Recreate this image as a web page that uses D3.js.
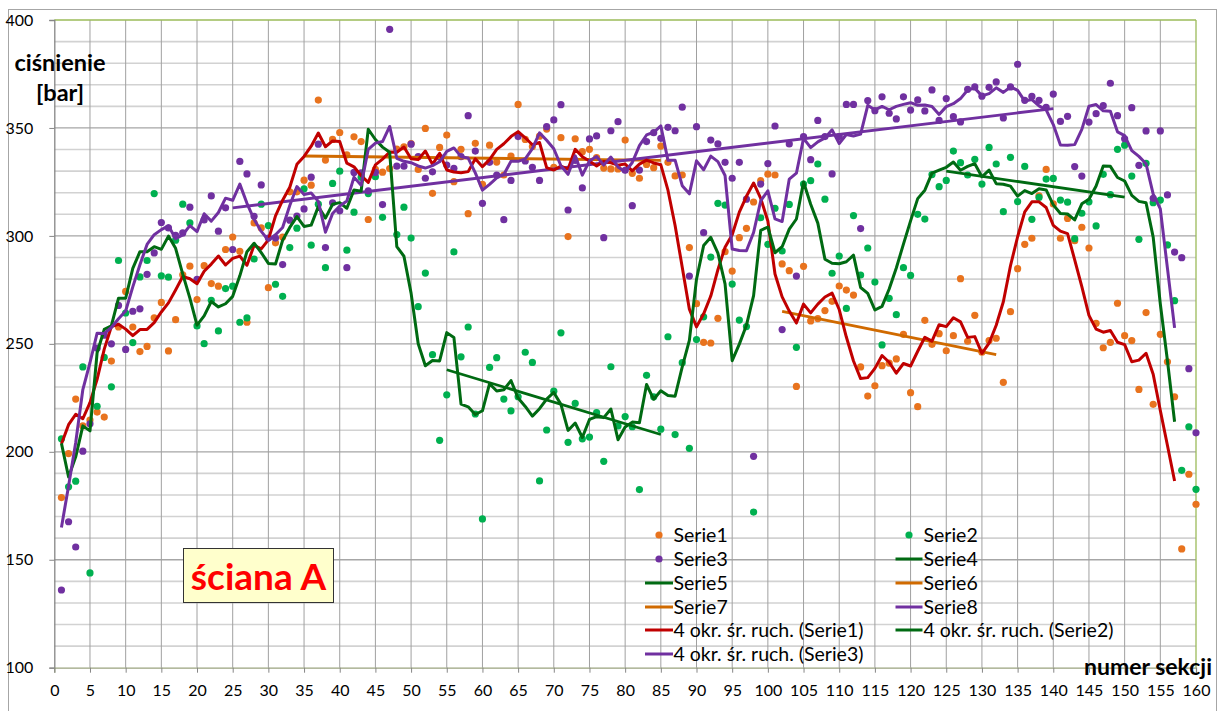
<!DOCTYPE html>
<html>
<head>
<meta charset="utf-8">
<script src="https://cdn.jsdelivr.net/npm/d3@7"></script>
<style>
  html, body { margin: 0; padding: 0; background: #fff; }
  svg { display: block; font-family: Lato, "Open Sans", sans-serif; }
</style>
</head>
<body>
<svg id="chart" width="1220" height="711"></svg>
<script>
// ---------------- data ----------------
const sections = d3.range(1, 161);

const serie1 = [178.8,199.2,224.4,212,214.7,218.4,216.1,242,257.8,274.3,
257.8,246.4,248.8,262.1,269.2,246.7,261.2,282,286,270.5,
286.2,277.9,276.7,293.7,299.5,292.9,260,306,303.7,276,
296.8,299.5,320.4,320.4,325.8,323.5,362.9,335.1,344.7,347.9,
337.5,345.9,343.7,307.6,330.8,329.5,331.2,340.2,341.3,342.8,
330.8,349.8,319.7,341,346.7,325.1,340.1,310.3,342.9,323.9,
342,334.2,328.2,337,360.9,344.7,341.4,346.2,349.5,331.8,
345.5,299.7,345,339,340.1,336.3,331.4,331,331,344.4,
329,326.7,333.1,331.6,341.6,334.1,327.8,328.2,294.6,268.6,
250.7,250.4,261.8,292.7,283.7,299.2,303.5,315.7,325.6,328.6,
328.2,287,283.9,230.3,285.9,260.6,261.7,265.4,269.7,276.8,
274.9,272.6,239.3,225.8,230.6,239.9,241.1,243,254.4,227.4,
220.9,260.9,249.8,254.7,246.8,253.8,280.2,251.2,263.2,246.1,
251.5,252.6,232.2,264.9,284.8,296.1,298.9,318.6,330.8,314.8,
298.9,308.1,297.8,304,294.4,259.5,248.2,250.7,268.8,253.8,
251.5,228.9,264.5,222,254.4,241.7,225.5,155,189.6,175.7];

const serie2 = [206,183.8,186.4,239.3,143.9,221.1,243.7,230.1,288.6,264.3,
250.6,281,288.6,319.6,281.5,280.9,298,314.7,306,258.3,
250.1,270.2,256,275.6,276.7,260,262,289.3,314.7,304.8,
277.6,272,294.6,303.6,321.8,295.7,314.7,285.3,324.3,330,
293.4,311,327.2,319.6,327.4,308.6,442,300.6,313.3,299,
267.2,282.8,245,205.3,226.4,292.6,244,257.8,217.5,168.9,
239.1,243.6,224.4,219,225.5,246.1,241.4,186.5,210.1,228.1,
255.1,204.4,222.4,206,206.8,218.1,195.6,239.4,212,216.3,
211.6,182.5,235.4,225.5,210.5,253.3,208,241.3,201.6,252,
262.5,290.2,315.1,314.3,277.7,261,258,172.1,308.4,296.1,
312.8,293,314.6,248.4,324,325.6,333.3,317,282.7,290.7,
266.4,309.4,281.9,294.4,278.6,249.5,271.1,263.5,285.3,281.7,
310,307.8,328.4,322.8,325.7,339.3,333.9,328.2,335.5,324,
341,333.3,311.2,336.4,315.9,332.2,307.7,317.8,326.3,326.6,
316.6,315.6,298.7,310.5,315.8,304.6,328.5,319.1,340.1,342,
327.7,298.4,333.6,315.4,316.6,295.8,270,191.4,211.6,182.6];

const serie3 = [136,167.6,155.9,200.3,213,248,254,250,267.8,247.4,
265.1,266.2,282.2,292.1,306.2,303.7,300.3,301.4,313.3,279.9,
307.4,318.5,302.2,313,293.7,334.5,328.7,309.1,323.6,299,
299,286.7,307.3,309.2,312.5,327.2,342.5,294.6,315.3,311.6,
285.3,329.4,329.2,320.9,329.4,314.5,395.7,332.3,332.3,342.5,
336.7,326.7,329.7,336.5,332.8,331.3,336.7,355.7,339.3,315.1,
334.1,328.2,307.5,325.7,346,334.7,331.8,325.7,350.6,353.7,
360.8,312,335,322.2,344.9,346.3,299.2,348.7,352.9,330.4,
314,330.5,343.7,347.8,345.2,350.3,348.7,359.6,281.4,350.6,
301.5,344.4,342.6,334.1,326.7,334.1,317,197.9,324,333.5,
350.9,256.6,342.6,281.4,346,335.3,353.5,346,328.7,346,
360.9,360.9,303.4,362.7,358,364.4,356.8,354.2,364.4,358.3,
363,357.9,367.6,353.5,363.6,355.2,352.8,367.9,369,364.7,
368.8,371.3,354.6,369,379.5,362.8,364.6,362.8,359.5,365.7,
353,355.4,332.1,327.7,352.7,356.6,360.3,370.7,355.7,345,
359.4,332.7,348.6,317.4,348.6,319,292.5,289.9,238.5,208.8];

// straight segments (Serie4 .. Serie8)
const serie4X = [125, 150], serie4Y = [330, 318];
const serie5X = [55, 85],   serie5Y = [238, 208];
const serie6X = [102, 132], serie6Y = [265, 245];
const serie7X = [35, 85],   serie7Y = [337, 335];
const serie8X = [25, 140],  serie8Y = [313, 359];

const xTicks = d3.range(0, 161, 5);
const yTicks = [100, 150, 200, 250, 300, 350, 400];
const yMinor = d3.range(110, 400, 10);
const maPeriod = 4;

const legendLeft = ["Serie1", "Serie3", "Serie5", "Serie7", "4 okr. śr. ruch. (Serie1)", "4 okr. śr. ruch. (Serie3)"];
const legendRight = ["Serie2", "Serie4", "Serie6", "Serie8", "4 okr. śr. ruch. (Serie2)"];

// ---------------- styles ----------------
const C = {
  s1: "#E8731E", s2: "#00B050", s3: "#7030A0",
  ma1: "#C00000", ma2: "#006A12", ma3: "#7030A0",
  s4: "#006A12", s5: "#006A12", s6: "#D06A00", s7: "#D06A00", s8: "#7030A0"
};

const svg = d3.select("#chart");
const W = 1220, H = 711;
const L = 54.3, R = 1196, T = 20, B = 667.7;

const x = d3.scaleLinear().domain([0, 160]).range([L, R]);
const y = d3.scaleLinear().domain([100, 400]).range([B, T]);

svg.append("rect").attr("width", W).attr("height", H).attr("fill", "#fff");
// outer chart frame
svg.append("rect").attr("x", 8.5).attr("y", 9.5).attr("width", 1208).attr("height", 720)
  .attr("fill", "none").attr("stroke", "#a6a6a6").attr("stroke-width", 1);

const g = svg.append("g");

// minor horizontal grid
g.selectAll(".hmin").data(yMinor.filter(v => v % 50 !== 0)).join("line")
  .attr("x1", L).attr("x2", R).attr("y1", d => y(d)).attr("y2", d => y(d))
  .attr("stroke", "#d2d2d2").attr("stroke-width", 1.6);
// major horizontal grid
g.selectAll(".hmaj").data(yTicks.filter(v => v > 100 && v < 400)).join("line")
  .attr("x1", L).attr("x2", R).attr("y1", d => y(d)).attr("y2", d => y(d))
  .attr("stroke", "#a6a6a6").attr("stroke-width", 1.3);
// vertical grid
g.selectAll(".vg").data(xTicks.filter(v => v > 0 && v < 160)).join("line")
  .attr("x1", d => x(d)).attr("x2", d => x(d)).attr("y1", T).attr("y2", B)
  .attr("stroke", "#a0a0a0").attr("stroke-width", 1);

// plot border (top/right olive)
g.append("line").attr("x1", L).attr("x2", R).attr("y1", T).attr("y2", T)
  .attr("stroke", "#9bbb59").attr("stroke-width", 1.3);
g.append("line").attr("x1", R).attr("x2", R).attr("y1", T).attr("y2", B)
  .attr("stroke", "#9bbb59").attr("stroke-width", 1.3);

// axes
const yAxis = d3.axisLeft(y).tickValues(yTicks).tickSize(5).tickPadding(16);
const xAxis = d3.axisBottom(x).tickValues(xTicks).tickSize(5).tickPadding(12);

const ya = svg.append("g").attr("transform", `translate(${L},0)`).call(yAxis);
ya.select(".domain").attr("stroke", "#868686").attr("stroke-width", 1.3);
ya.selectAll(".tick line").attr("stroke", "#868686");
ya.selectAll(".tick text").attr("font-size", 16).attr("fill", "#000")
  .attr("font-family", "Lato, sans-serif");

const xa = svg.append("g").attr("transform", `translate(0,${B})`).call(xAxis);
xa.select(".domain").attr("stroke", "#9aa37f").attr("stroke-width", 1.3);
xa.selectAll(".tick line").attr("stroke", "#868686");
xa.selectAll(".tick text").attr("font-size", 16).attr("fill", "#000")
  .attr("font-family", "Lato, sans-serif");

// ---------------- marks ----------------
const inRange = v => v >= 100 && v <= 400;
function dots(vals, color) {
  g.append("g").selectAll("circle")
    .data(vals.map((v, i) => ({ x: sections[i], y: v })).filter(d => inRange(d.y)))
    .join("circle")
    .attr("cx", d => x(d.x)).attr("cy", d => y(d.y)).attr("r", 3.6)
    .attr("fill", color);
}
dots(serie1, C.s1);
dots(serie2, C.s2);
dots(serie3, C.s3);

const line = d3.line().x(d => x(d[0])).y(d => y(d[1]));
function seg(xs, ys, color, w) {
  g.append("path").datum(xs.map((v, i) => [v, ys[i]]))
    .attr("d", line).attr("fill", "none").attr("stroke", color)
    .attr("stroke-width", w).attr("stroke-linejoin", "round");
}
seg(serie4X, serie4Y, C.s4, 2.8);
seg(serie5X, serie5Y, C.s5, 2.8);
seg(serie6X, serie6Y, C.s6, 2.8);
seg(serie7X, serie7Y, C.s7, 2.8);
seg(serie8X, serie8Y, C.s8, 2.8);

function movingAverage(vals) {
  const out = [];
  for (let i = 0; i + maPeriod <= vals.length; i++) {
    out.push([sections[i], d3.mean(vals.slice(i, i + maPeriod))]);
  }
  return out;
}
[[serie1, C.ma1], [serie2, C.ma2], [serie3, C.ma3]].forEach(([vals, col]) => {
  g.append("path").datum(movingAverage(vals))
    .attr("d", line).attr("fill", "none").attr("stroke", col)
    .attr("stroke-width", 3).attr("stroke-linejoin", "round");
});

// ---------------- texts ----------------
svg.append("text").attr("x", 60).attr("y", 71).attr("text-anchor", "middle")
  .attr("font-size", 23.5).attr("font-weight", "bold").text("ciśnienie");
svg.append("text").attr("x", 60).attr("y", 101).attr("text-anchor", "middle")
  .attr("font-size", 23.5).attr("font-weight", "bold").text("[bar]");
svg.append("text").attr("x", 1212).attr("y", 675).attr("text-anchor", "end")
  .attr("font-size", 23).attr("font-weight", "bold").text("numer sekcji");

// label box
svg.append("rect").attr("x", 183.5).attr("y", 548.5).attr("width", 150).attr("height", 54)
  .attr("fill", "#FFFFCC").attr("stroke", "#333").attr("stroke-width", 1);
svg.append("text").attr("x", 258.5).attr("y", 590).attr("text-anchor", "middle")
  .attr("font-size", 37).attr("font-weight", "bold").attr("fill", "#FF0000").text("ściana A");

// ---------------- legend ----------------
const rowY = [535, 559, 583, 607, 630, 654];
const leftKinds = [["dot", C.s1], ["dot", C.s3], ["line", C.s5], ["line", C.s7], ["line", C.ma1], ["line", C.ma3]];
const rightKinds = [["dot", C.s2], ["line", C.s4], ["line", C.s6], ["line", C.s8], ["line", C.ma2]];
function legendCol(labels, kinds, lineX0, lineX1, textX) {
  const lg = svg.append("g");
  labels.forEach((lab, i) => {
    const [kind, col] = kinds[i];
    const yy = rowY[i];
    if (kind === "dot") {
      lg.append("circle").attr("cx", (lineX0 + lineX1) / 2).attr("cy", yy).attr("r", 3.6).attr("fill", col);
    } else {
      lg.append("line").attr("x1", lineX0).attr("x2", lineX1).attr("y1", yy).attr("y2", yy)
        .attr("stroke", col).attr("stroke-width", 3);
    }
    lg.append("text").attr("x", textX).attr("y", yy + 7).attr("font-size", 19.5)
      .attr("fill", "#000").text(lab);
  });
}
legendCol(legendLeft, leftKinds, 645, 673, 673.5);
legendCol(legendRight, rightKinds, 895.5, 922.5, 923.5);
</script>
</body>
</html>
